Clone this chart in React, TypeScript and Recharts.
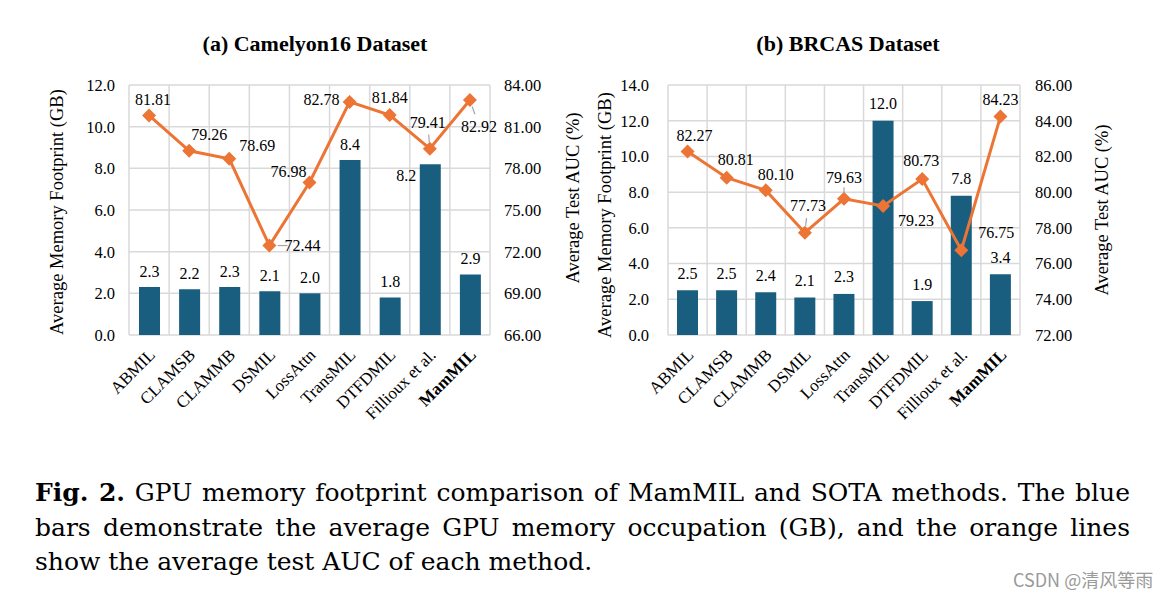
import React from 'react'
import { ComposedChart, Bar, Line, XAxis, YAxis, CartesianGrid, LabelList } from 'recharts'

const methods = ['ABMIL', 'CLAMSB', 'CLAMMB', 'DSMIL', 'LossAttn', 'TransMIL', 'DTFDMIL', 'Fillioux et al.', 'MamMIL']

// (a) Camelyon16
const camMemory = [2.3, 2.2, 2.3, 2.1, 2.0, 8.4, 1.8, 8.2, 2.9]
const camAuc = [81.81, 79.26, 78.69, 72.44, 76.98, 82.78, 81.84, 79.41, 82.92]
const camMemTicks = [0, 2, 4, 6, 8, 10, 12]
const camAucTicks = [66, 69, 72, 75, 78, 81, 84]

// (b) BRCAS
const brMemory = [2.5, 2.5, 2.4, 2.1, 2.3, 12.0, 1.9, 7.8, 3.4]
const brAuc = [82.27, 80.81, 80.1, 77.73, 79.63, 79.23, 80.73, 76.75, 84.23]
const brMemTicks = [0, 2, 4, 6, 8, 10, 12, 14]
const brAucTicks = [72, 74, 76, 78, 80, 82, 84, 86]

// label placement (offset from point) + whether a leader line is drawn
type Place = { dx: number; dy: number; lead?: boolean }
const camAucPlace: Place[] = [
  { dx: 4, dy: -16 }, { dx: 20, dy: -16 }, { dx: 28, dy: -13 }, { dx: 33, dy: 0, lead: true },
  { dx: -21, dy: -11 }, { dx: -28, dy: -2 }, { dx: 0, dy: -18 }, { dx: -2, dy: -26, lead: true },
  { dx: 9, dy: 26, lead: true },
]
const camMemPlace: Place[] = [
  { dx: 0, dy: -16 }, { dx: 0, dy: -16 }, { dx: 0, dy: -16 }, { dx: 0, dy: -16 }, { dx: 0, dy: -16 },
  { dx: 0, dy: -16 }, { dx: 0, dy: -16 }, { dx: -24, dy: 11 }, { dx: 0, dy: -16 },
]
const brAucPlace: Place[] = [
  { dx: 7, dy: -16 }, { dx: 9, dy: -18 }, { dx: 10, dy: -16 }, { dx: 3, dy: -27, lead: true },
  { dx: 0, dy: -21, lead: true }, { dx: 33, dy: 15 }, { dx: -1, dy: -19 }, { dx: 35, dy: -18 },
  { dx: 0, dy: -17 },
]
const brMemPlace: Place[] = methods.map(() => ({ dx: 0, dy: -17 }))

const BLUE = '#1a5e7f'
const ORANGE = '#ec7434'
const GRID = '#d9d9d9'
const SERIF = '"Liberation Serif", "Times New Roman", serif'

const Diamond = ({ cx, cy }: any) => {
  if (cx == null || cy == null) return null
  const r = 7
  return <polygon points={`${cx},${cy - r} ${cx + r},${cy} ${cx},${cy + r} ${cx - r},${cy}`} fill={ORANGE} />
}

const CategoryTick = ({ x, y, payload }: any) => {
  const bold = payload.value === 'MamMIL'
  return (
    <text
      x={x + 7}
      y={y + 13}
      transform={`rotate(-45, ${x + 7}, ${y + 13})`}
      textAnchor="end"
      fontSize={17}
      fontFamily={SERIF}
      fontWeight={bold ? 'bold' : 'normal'}
      fill="#000"
    >
      {payload.value}
    </text>
  )
}

const pointLabel = (places: Place[], digits: number) => (props: any) => {
  const { x, y, value, index } = props
  const p = places[index]
  const lx = x + p.dx
  const ly = y + p.dy
  return (
    <g>
      {p.lead && (
        <line
          x1={x + (lx - x) * 0.25}
          y1={y + (ly - y) * 0.25}
          x2={x + (lx - x) * 0.55}
          y2={y + (ly - y) * 0.55}
          stroke="#a6a6a6"
          strokeWidth={1.2}
        />
      )}
      <text x={lx} y={ly} textAnchor="middle" dominantBaseline="central" fontSize={16} fontFamily={SERIF} fill="#000">
        {Number(value).toFixed(digits)}
      </text>
    </g>
  )
}

const barLabel = (places: Place[]) => (props: any) => {
  const { x, y, width, value, index } = props
  const p = places[index]
  return (
    <text
      x={x + width / 2 + p.dx}
      y={y + p.dy}
      textAnchor="middle"
      dominantBaseline="central"
      fontSize={16}
      fontFamily={SERIF}
      fill="#000"
    >
      {Number(value).toFixed(1)}
    </text>
  )
}

// vertical grid at category boundaries instead of centres
const boundaryLines = ({ offset }: any) => {
  const n = methods.length
  return Array.from({ length: n + 1 }, (_, i) => offset.left + (offset.width * i) / n)
}

interface PanelProps {
  memory: number[]
  auc: number[]
  memTicks: number[]
  aucTicks: number[]
  memPlace: Place[]
  aucPlace: Place[]
  width: number
  leftW: number
  rightW: number
  leftMargin: number
  rightMargin: number
}

function Panel({ memory, auc, memTicks, aucTicks, memPlace, aucPlace, width, leftW, rightW, leftMargin, rightMargin }: PanelProps) {
  const data = methods.map((m, i) => ({ name: m, mem: memory[i], auc: auc[i] }))
  const tickStyle = { fill: '#000', fontSize: 16.5, fontFamily: SERIF }
  return (
    <ComposedChart width={width} height={460} data={data} margin={{ top: 85, right: 0, left: 0, bottom: 25 }}>
      <CartesianGrid
        yAxisId="mem"
        stroke={GRID}
        strokeWidth={1.5}
        verticalCoordinatesGenerator={boundaryLines}
      />
      <XAxis dataKey="name" axisLine={false} tickLine={false} interval={0} height={100} tick={<CategoryTick />} />
      <YAxis
        yAxisId="mem"
        domain={[memTicks[0], memTicks[memTicks.length - 1]]}
        ticks={memTicks}
        tickFormatter={(v: number) => v.toFixed(1)}
        width={leftW}
        axisLine={false}
        tickLine={false}
        tickMargin={leftMargin}
        tick={tickStyle}
      />
      <YAxis
        yAxisId="auc"
        orientation="right"
        domain={[aucTicks[0], aucTicks[aucTicks.length - 1]]}
        ticks={aucTicks}
        tickFormatter={(v: number) => v.toFixed(2)}
        width={rightW}
        axisLine={false}
        tickLine={false}
        tickMargin={rightMargin}
        tick={{ ...tickStyle, textAnchor: 'start' }}
      />
      <Bar yAxisId="mem" dataKey="mem" fill={BLUE} barSize={21} isAnimationActive={false}>
        <LabelList dataKey="mem" content={barLabel(memPlace)} />
      </Bar>
      <Line
        yAxisId="auc"
        dataKey="auc"
        stroke={ORANGE}
        strokeWidth={3}
        dot={<Diamond />}
        activeDot={false}
        isAnimationActive={false}
      >
        <LabelList dataKey="auc" content={pointLabel(aucPlace, 2)} />
      </Line>
    </ComposedChart>
  )
}

const abs = (left: number, top: number): React.CSSProperties => ({ position: 'absolute', left, top })

const AxisTitle = ({ x, y, text }: { x: number; y: number; text: string }) => (
  <div
    style={{
      position: 'absolute',
      left: x,
      top: y,
      transform: 'translate(-50%, -50%) rotate(-90deg)',
      whiteSpace: 'nowrap',
      fontSize: 18.5,
      fontFamily: SERIF,
      color: '#000',
    }}
  >
    {text}
  </div>
)

const ChartTitle = ({ x, y, text }: { x: number; y: number; text: string }) => (
  <div
    style={{
      position: 'absolute',
      left: x,
      top: y,
      transform: 'translate(-50%, -50%)',
      whiteSpace: 'nowrap',
      fontSize: 22,
      fontWeight: 'bold',
      fontFamily: SERIF,
    }}
  >
    {text}
  </div>
)

const captionLine: React.CSSProperties = {
  width: 1095,
  fontSize: 25,
  fontFamily: '"DejaVu Serif", serif',
  lineHeight: '34.5px',
  whiteSpace: 'nowrap',
}
const justified: React.CSSProperties = { ...captionLine, textAlign: 'justify', textAlignLast: 'justify', whiteSpace: 'normal' }

export default function App() {
  return (
    <div style={{ position: 'absolute', left: 0, top: 0, width: 1169, height: 595, background: '#fff', overflow: 'hidden' }}>
      <ChartTitle x={315} y={44} text="(a) Camelyon16 Dataset" />
      <ChartTitle x={848} y={44} text="(b) BRCAS Dataset" />

      <div style={abs(0, 0)}>
        <Panel
          memory={camMemory}
          auc={camAuc}
          memTicks={camMemTicks}
          aucTicks={camAucTicks}
          memPlace={camMemPlace}
          aucPlace={camAucPlace}
          width={560}
          leftW={129}
          rightW={70}
          leftMargin={8}
          rightMargin={8}
        />
      </div>
      <div style={abs(560, 0)}>
        <Panel
          memory={brMemory}
          auc={brAuc}
          memTicks={brMemTicks}
          aucTicks={brAucTicks}
          memPlace={brMemPlace}
          aucPlace={brAucPlace}
          width={609}
          leftW={108}
          rightW={149}
          leftMargin={13}
          rightMargin={9}
        />
      </div>

      <AxisTitle x={57} y={212} text="Average Memory Footprint (GB)" />
      <AxisTitle x={573} y={198} text="Average Test AUC (%)" />
      <AxisTitle x={605} y={215} text="Average Memory Footprint (GB)" />
      <AxisTitle x={1102} y={210} text="Average Test AUC (%)" />

      <div style={abs(35, 476)}>
        <div style={justified}>
          <b>Fig. 2.</b> GPU memory footprint comparison of MamMIL and SOTA methods. The blue
        </div>
        <div style={justified}>bars demonstrate the average GPU memory occupation (GB), and the orange lines</div>
        <div style={captionLine}>show the average test AUC of each method.</div>
      </div>

      <div
        style={{
          position: 'absolute',
          left: 1013,
          top: 566,
          fontSize: 18,
          color: '#9a9a9a',
          fontFamily: '"Noto Sans CJK SC", "Noto Sans", sans-serif',
          whiteSpace: 'nowrap',
        }}
      >
        CSDN @清风等雨
      </div>
    </div>
  )
}
